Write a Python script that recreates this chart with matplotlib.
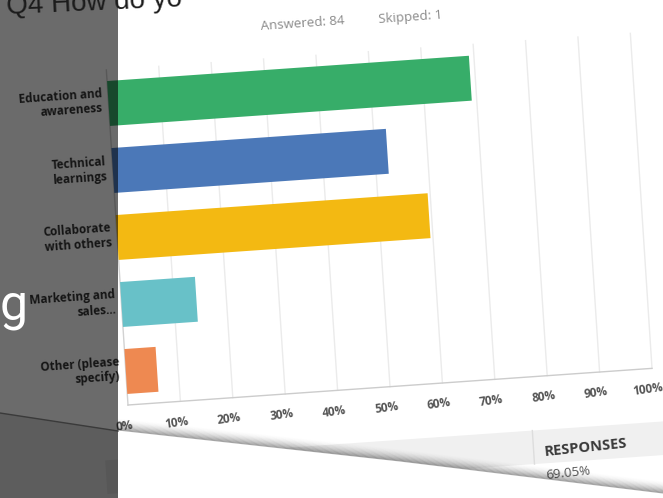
import matplotlib
matplotlib.use("Agg")
import matplotlib.pyplot as plt
from matplotlib.patches import Polygon, Rectangle
from matplotlib.lines import Line2D
from matplotlib.transforms import Affine2D

categories = [
    "Education and\nawareness",
    "Technical\nlearnings",
    "Collaborate\nwith others",
    "Marketing and\nsales...",
    "Other (please\nspecify)",
]
values = [69.05, 52.38, 59.52, 14.29, 5.95]
colors = ["#37ad69", "#4b78b8", "#f3b912", "#68c1c8", "#ee8951"]
ticks = [0, 10, 20, 30, 40, 50, 60, 70, 80, 90, 100]
tick_labels = [f"{t}%" for t in ticks]
answered, skipped = 84, 1

W, H = 663, 498
plt.rcParams["font.family"] = ["Open Sans", "DejaVu Sans"]

fig = plt.figure(figsize=(W / 100, H / 100), dpi=100)
fig.patch.set_facecolor("white")


def px(x, y):
    # picture pixels (y from top) -> figure fraction
    return x / W, 1 - y / H


# flat chart frame in pixels, the slant is added by `warp`
x0, y0, aw, ah = 128, 93, 524, 335
ax = fig.add_axes([x0 / W, y0 / H, aw / W, ah / H])
ax.set_xlim(0, 100)
ax.set_ylim(-0.5, len(categories) - 0.5)
ax.set_axis_off()

warp = Affine2D().translate(-x0, -y0).skew_deg(-3.7, 4.0).translate(x0, y0)
tilt = ax.transData + warp

ypos = list(range(len(categories)))[::-1]

# grid + axis lines
for t in ticks:
    ax.plot([t, t], [-0.5, len(categories) - 0.5], transform=tilt,
            color="#d2d2d2" if t == 0 else "#ebebeb", lw=1, clip_on=False, zorder=1)
ax.plot([0, 100], [-0.5, -0.5], transform=tilt, color="#cccccc", lw=1,
        clip_on=False, zorder=2)

ax.barh(ypos, values, height=0.67, color=colors, transform=tilt,
        clip_on=False, zorder=3)

for t, lab in zip(ticks, tick_labels):
    ax.text(t, -0.5, lab, transform=ax.transData + Affine2D().translate(-5, -21) + warp,
            ha="center", va="center", rotation=8, fontsize=8.5, fontweight="bold",
            color="#555555", clip_on=False)

for y, cat in zip(ypos, categories):
    ax.text(0, y, cat, transform=ax.transData + Affine2D().translate(-5, 0) + warp,
            ha="right", va="center", multialignment="right", rotation=4,
            fontsize=8.5, fontweight="bold", color="#333333", linespacing=1.2,
            clip_on=False)

# responses table header under the chart
band = Polygon([(-0.05, -0.16), (1.2, -0.16), (1.2, -0.26), (-0.05, -0.26)],
               closed=True, transform=ax.transAxes + warp, facecolor="#f0f0f0",
               edgecolor="none", clip_on=False, zorder=1)
ax.add_patch(band)
ax.plot([0.765, 0.765], [-0.16, -0.26], transform=ax.transAxes + warp,
        color="#dddddd", lw=1, clip_on=False, zorder=2)
ax.text(0.785, -0.213, "RESPONSES", transform=ax.transAxes + warp, ha="left",
        va="center", rotation=6, fontsize=10.5, fontweight="bold", color="#3a3a3a",
        clip_on=False)
ax.text(0.785, -0.29, f"{values[0]:.2f}%", transform=ax.transAxes + warp, ha="left",
        va="center", rotation=6, fontsize=9.5, color="#555555", clip_on=False)

fig.text(*px(303, 24), f"Answered: {answered}", ha="center", va="center",
         rotation=4, fontsize=9.5, color="#8a8a8a")
fig.text(*px(410, 17), f"Skipped: {skipped}", ha="center", va="center",
         rotation=4, fontsize=9.5, color="#8a8a8a")

# lower edge of the screenshot: white below, soft shadow above
edge = [(118, 430), (400, 461), (663, 493)]
below = [px(*p) for p in edge] + [px(663, 498), px(118, 498)]
fig.add_artist(Polygon(below, closed=True, transform=fig.transFigure,
                       facecolor="white", edgecolor="none", zorder=4))
for k in range(16):
    a = 0.30 * (1 - k / 16) ** 2
    pts = [px(x, y - k * 0.8) for x, y in edge]
    fig.add_artist(Line2D([p[0] for p in pts], [p[1] for p in pts],
                          transform=fig.transFigure, color="black", alpha=a,
                          lw=0.8, zorder=5))

# dark slide panel on the left
fig.add_artist(Rectangle(px(0, 498), 118 / W, 1, transform=fig.transFigure,
                         facecolor="black", alpha=0.58, edgecolor="none", zorder=10))
low = [px(0, 413), px(118, 431), px(118, 498), px(0, 498)]
fig.add_artist(Polygon(low, closed=True, transform=fig.transFigure,
                       facecolor="black", alpha=0.13, edgecolor="none", zorder=11))
fig.add_artist(Line2D([0, 118 / W], [px(0, 413)[1], px(0, 431)[1]],
                      transform=fig.transFigure, color="#3a3a3a", lw=1, zorder=11))

fig.text(*px(6, 14), "Q4 How do yo", ha="left", va="baseline", rotation=2.5,
         fontsize=20, family=["Liberation Sans", "DejaVu Sans"], color="#1c1c1c",
         zorder=12)
fig.text(*px(0, 320), "g", ha="left", va="baseline", fontsize=36,
         family=["Roboto", "Lato", "DejaVu Sans"], color="white", zorder=12)

fig.savefig("out.png", dpi=100)
